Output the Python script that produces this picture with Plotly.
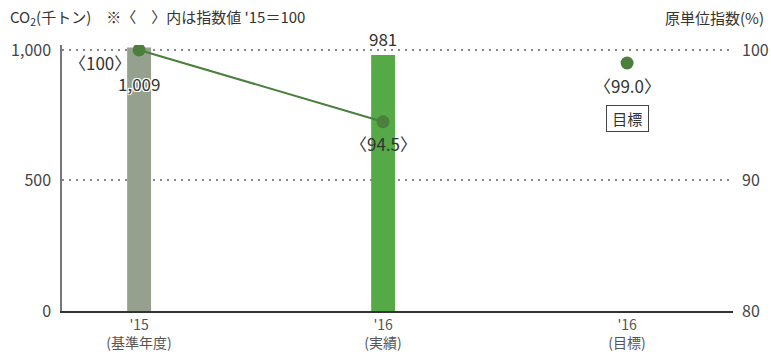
import plotly.graph_objects as go

# categories (fiscal year / type)
categories = ["'15<br>(基準年度)", "'16<br>(実績)", "'16<br>(目標)"]
# CO2 emissions, thousand tonnes
co2_values = [1009, 981]
bar_colors = ["#95a08f", "#55aa47"]
# intensity index ('15 = 100)
index_actual = [100, 94.5]
index_target = [99.0]

left_ticks = [0, 500, 1000]
left_ticklabels = ["0", "500", "1,000"]
right_ticks = [80, 90, 100]

FONT = "Noto Sans CJK JP"
TEXT = "#333333"
LINE_GREEN = "#4a7f3c"

fig = go.Figure()

fig.add_trace(go.Bar(
    x=categories[:2], y=co2_values, width=0.098,
    marker=dict(color=bar_colors, line=dict(width=0)),
    hoverinfo="skip", showlegend=False,
))

fig.add_trace(go.Scatter(
    x=categories[:2], y=index_actual, yaxis="y2",
    mode="lines+markers",
    line=dict(color=LINE_GREEN, width=2),
    marker=dict(color=LINE_GREEN, size=13),
    showlegend=False,
))

fig.add_trace(go.Scatter(
    x=categories[2:], y=index_target, yaxis="y2",
    mode="markers",
    marker=dict(color=LINE_GREEN, size=13),
    showlegend=False,
))

halo = "1px 1px 0 #fff, -1px -1px 0 #fff, 1px -1px 0 #fff, -1px 1px 0 #fff"
ann = []
# index labels
ann.append(dict(x=categories[0], y=index_actual[0], yref="y2", text="〈%d〉" % index_actual[0],
                xshift=-39, yshift=-13))
ann.append(dict(x=categories[1], y=index_actual[1], yref="y2", text="〈%.1f〉" % index_actual[1],
                yshift=-22))
ann.append(dict(x=categories[2], y=index_target[0], yref="y2", text="〈%.1f〉" % index_target[0],
                yshift=-22))
ann.append(dict(x=categories[2], y=index_target[0], yref="y2", text="&nbsp;目標&nbsp;",
                yshift=-55, bordercolor="#444", borderwidth=1, borderpad=2,
                font=dict(family=FONT, size=15, color=TEXT)))
# CO2 value labels
ann.append(dict(x=categories[0], y=co2_values[0], yref="y", text="{:,}".format(co2_values[0]),
                yshift=-36, font=dict(family=FONT, size=17, color=TEXT, shadow=halo)))
ann.append(dict(x=categories[1], y=co2_values[1], yref="y", text="{:,}".format(co2_values[1]),
                yshift=16))
for a in ann:
    a.setdefault("xref", "x")
    a.setdefault("showarrow", False)
    a.setdefault("font", dict(family=FONT, size=17, color=TEXT))

# axis titles
ann.append(dict(xref="paper", yref="paper", x=-0.0805, y=1.0, yshift=28, xanchor="left",
                yanchor="middle", showarrow=False,
                text="CO<sub>2</sub>(千トン)　※〈　〉内は指数値 '15＝100",
                font=dict(family=FONT, size=15, color=TEXT)))
ann.append(dict(xref="paper", yref="paper", x=1.049, y=1.0, yshift=28, xanchor="right",
                yanchor="middle", showarrow=False, text="原単位指数(%)",
                font=dict(family=FONT, size=15, color=TEXT)))

fig.update_layout(
    width=771, height=352,
    margin=dict(l=62, r=38, t=45, b=41, autoexpand=False),
    plot_bgcolor="white", paper_bgcolor="white",
    font=dict(family=FONT, size=14, color="#444444"),
    annotations=ann,
    xaxis=dict(
        type="category", range=[-0.316, 2.434], automargin=False,
        showgrid=False, ticks="", showline=True, linecolor="#333333", linewidth=1.5,
        tickfont=dict(family=FONT, size=14, color="#555555"),
        ticklabelstandoff=0,
        fixedrange=True,
    ),
    yaxis=dict(
        range=[0, 1019], tickvals=left_ticks, ticktext=left_ticklabels, automargin=False,
        showgrid=True, gridcolor="#888888", griddash="2px,5px", gridwidth=1.5,
        zeroline=False, showline=True, linecolor="#777777", linewidth=1.5,
        ticks="", ticklabelstandoff=6,
        tickfont=dict(family=FONT, size=16, color="#444444"),
    ),
    yaxis2=dict(
        overlaying="y", side="right", range=[80, 100.38], tickvals=right_ticks, automargin=False,
        showgrid=False, zeroline=False, showline=False, ticks="", ticklabelstandoff=8,
        tickfont=dict(family=FONT, size=16, color="#444444"),
    ),
)

fig.write_html("out.html")
